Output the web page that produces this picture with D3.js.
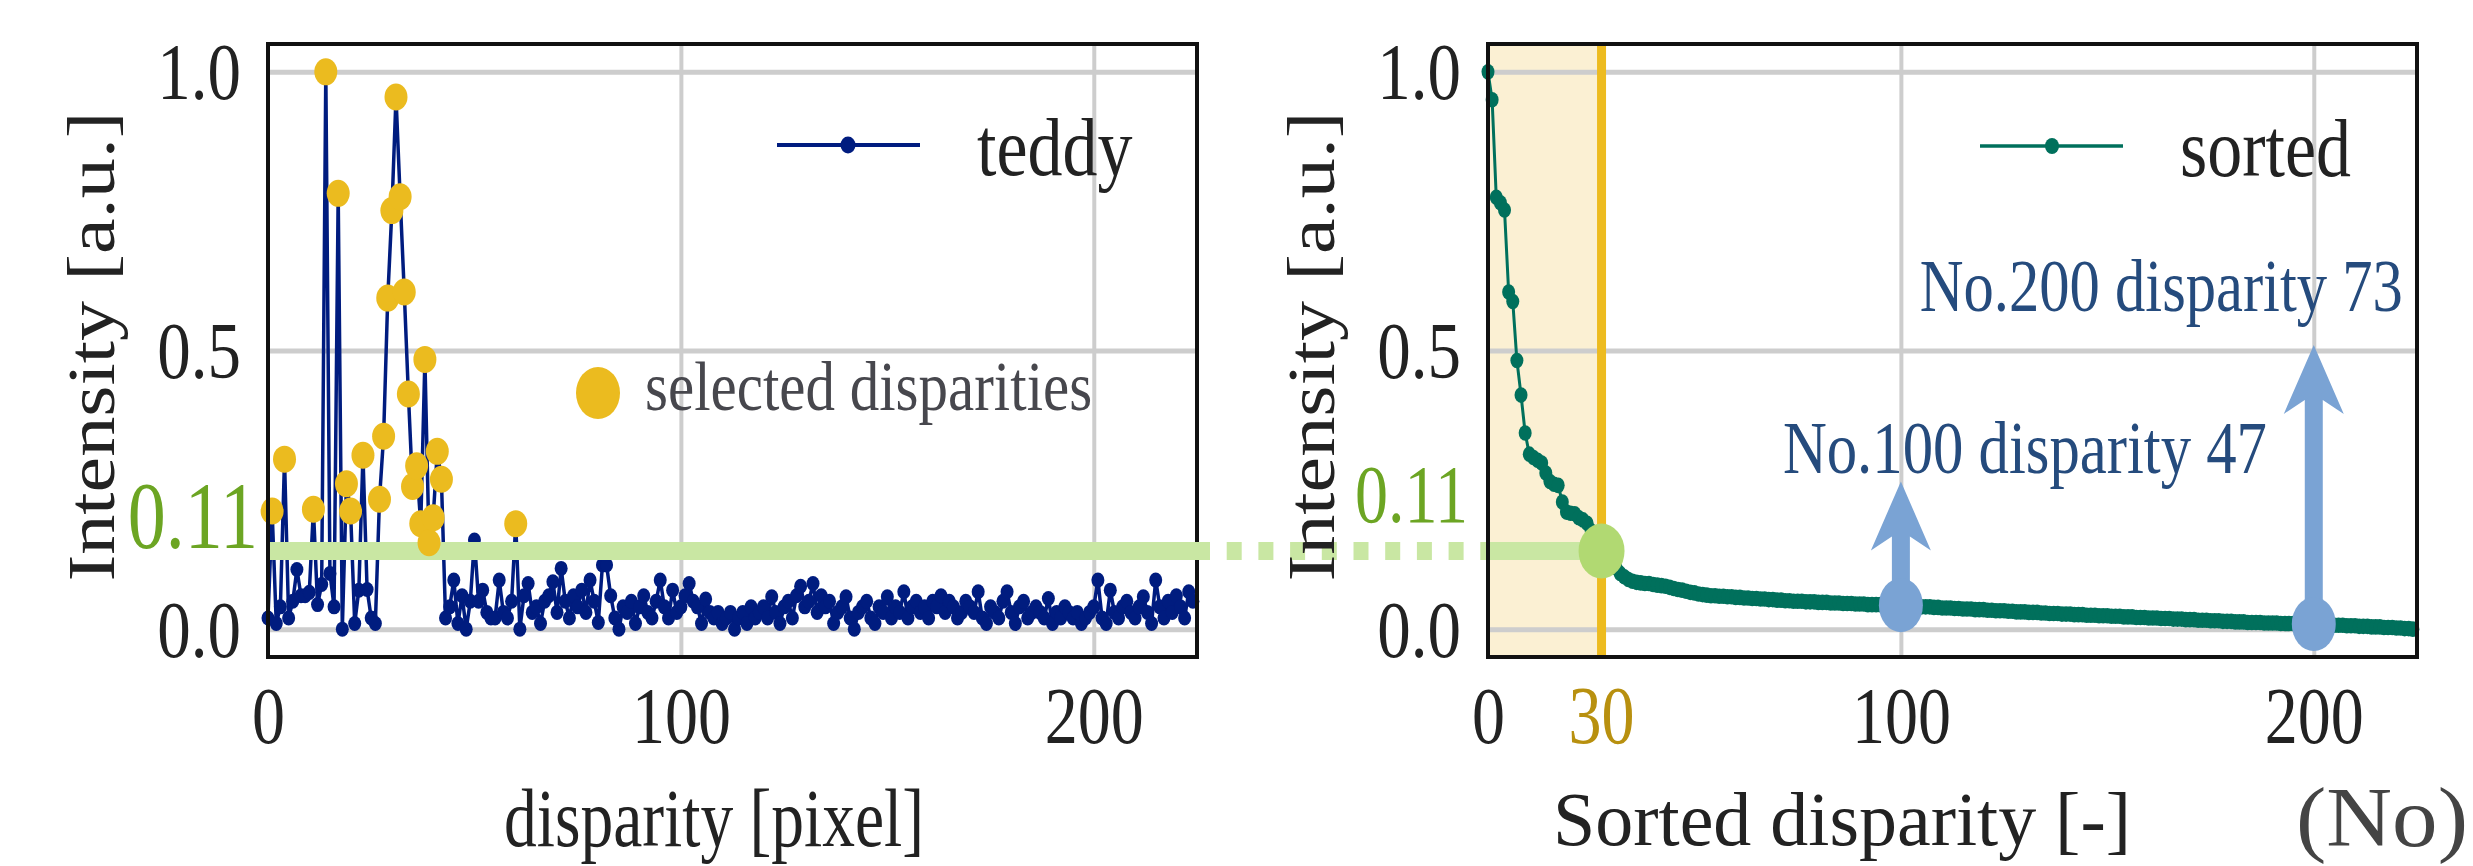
<!DOCTYPE html>
<html>
<head>
<meta charset="utf-8">
<script src="https://cdn.jsdelivr.net/npm/d3@7"></script>
<style>
  html, body { margin: 0; padding: 0; background: #fff; }
  svg { display: block; }
</style>
</head>
<body>
<svg id="chart" width="2473" height="866"></svg>
<script>
//
// Data
//

// teddy intensity per disparity (0..224)
const TEDDY = [
  .02, .212, .01, .04, .305, .02, .05, .107, .06, .06, .066, .215, .044, .08, 1.0,
  .10, .04, .782, .0, .261, .212, .01, .07, .312, .071, .02, .01, .233, .346, .594,
  .751, .955, .776, .605, .422, .256, .293, .189, .484, .155, .2, .319, .269, .02, .04,
  .088, .01, .06, .0, .05, .16, .05, .07, .03, .02, .02, .088, .03, .02, .05,
  .189, .0, .06, .082, .03, .04, .01, .05, .06, .085, .03, .109, .05, .02, .06,
  .04, .07, .03, .088, .05, .012, .115, .115, .06, .02, .0, .04, .03, .05, .01,
  .04, .06, .03, .02, .05, .088, .04, .02, .07, .03, .04, .06, .082, .05, .04,
  .01, .054, .03, .02, .03, .01, .02, .03, .0, .02, .03, .01, .04, .02, .03,
  .04, .02, .058, .03, .01, .04, .05, .02, .06, .077, .04, .05, .082, .03, .06,
  .04, .05, .01, .03, .04, .058, .02, .0, .03, .04, .05, .02, .01, .04, .03,
  .058, .02, .04, .03, .067, .02, .04, .05, .03, .04, .02, .05, .04, .06, .03,
  .05, .04, .02, .03, .05, .04, .03, .067, .02, .01, .04, .03, .02, .05, .067,
  .03, .01, .04, .05, .02, .03, .04, .03, .02, .055, .01, .03, .02, .04, .03,
  .02, .03, .01, .02, .03, .04, .088, .02, .01, .07, .03, .02, .04, .05, .03,
  .02, .04, .058, .03, .01, .088, .04, .02, .05, .03, .06, .04, .02, .067, .05,
]

// disparities marked as selected (yellow)
const SELECTED = [1, 4, 11, 14, 17, 19, 20, 23, 27, 28, 29, 30, 31, 32, 33, 34, 35, 36, 37, 38, 39, 40, 41, 42, 60]

// intensities in descending order (No. 0..224)
const SORTED = [
  1.0, .95, .775, .765, .752, .605, .588, .482, .42, .352, .314, .308, .303, .298, .28,
  .265, .26, .258, .228, .21, .208, .207, .2, .196, .19, .176, .162, .148, .132, .12,
  .114, .11, .1, .094, .089, .086, .084, .083, .082, .082, .08, .079, .078, .077, .075,
  .073, .071, .07, .068, .066, .065, .063, .062, .061, .06, .06, .059, .059, .058, .058,
  .057, .057, .056, .056, .055, .055, .054, .054, .053, .053, .052, .052, .051, .051, .05,
  .05, .05, .049, .049, .049, .048, .048, .048, .047, .047, .047, .046, .046, .046, .045,
  .045, .045, .044, .044, .044, .044, .043, .043, .043, .043, .043, .042, .042, .041, .041,
  .04, .04, .04, .039, .039, .038, .038, .038, .037, .037, .036, .036, .036, .035, .035,
  .035, .034, .034, .033, .033, .033, .032, .032, .031, .031, .031, .03, .03, .03, .029,
  .029, .028, .028, .028, .027, .027, .027, .026, .026, .026, .025, .025, .025, .024, .024,
  .024, .023, .023, .023, .022, .022, .022, .021, .021, .021, .02, .02, .02, .019, .019,
  .019, .018, .018, .018, .017, .017, .017, .016, .016, .016, .015, .015, .015, .014, .014,
  .014, .013, .013, .013, .012, .012, .012, .012, .011, .011, .011, .011, .01, .01, .01,
  .01, .01, .009, .009, .009, .009, .009, .008, .008, .008, .007, .007, .007, .006, .006,
  .006, .005, .005, .005, .004, .004, .004, .003, .003, .003, .002, .002, .001, .001, .0,
]

const X_TICKS = [0, 100, 200]
const Y_TICKS = [0, 0.5, 1.0]
const X_DOMAIN = [0, 225]
const Y_DOMAIN = [-0.05, 1.05]

const THRESHOLD = 0.14
const THRESHOLD_LABEL = `0.11`
const CUT = 27.5
const CUT_LABEL = `30`
const PICKS = [100, 200]
const PICK_LABELS = [`No.100 disparity 47`, `No.200 disparity 73`]
const ARROW_TOPS = [0.265, 0.51]

//
// Configuration
//

const FONT = `"Liberation Serif", "Times New Roman", Times, serif`
const TEXT_COLOR = `#222`
const GRID_COLOR = `#cdcdcd`
const TEDDY_COLOR = `#001c7f`
const SELECTED_COLOR = `#ebbb1f`
const SORTED_COLOR = `#00705c`
const BAND_COLOR = `#c9e7a3`
const DOT_COLOR = `#b1d972`
const GREEN_TEXT = `#6ca523`
const SHADE_COLOR = `#fbf0d3`
const CUT_COLOR = `#edbb1f`
const CUT_TEXT = `#b8900f`
const ARROW_COLOR = `#7aa3d4`
const NOTE_COLOR = `#254b7d`

const TOP = 44
const BOTTOM = 657
const LEFT = { x0: 268, x1: 1197 }
const RIGHT = { x0: 1488, x1: 2417 }

const svg = d3.select(`#chart`).attr(`font-family`, FONT)

const y = d3.scaleLinear().domain(Y_DOMAIN).range([BOTTOM, TOP])
const xL = d3.scaleLinear().domain(X_DOMAIN).range([LEFT.x0, LEFT.x1])
const xR = d3.scaleLinear().domain(X_DOMAIN).range([RIGHT.x0, RIGHT.x1])

//
// Helpers
//

function label(g, str, x, yy, o = {}) {
  const sx = o.sx || 1
  const sy = o.sy || 1
  const t = g.append(`text`)
    .attr(`transform`, `translate(${x},${yy}) scale(${sx},${sy})` + (o.rotate ? ` rotate(${o.rotate})` : ``))
    .attr(`font-size`, o.size || 66)
    .attr(`text-anchor`, o.anchor || `start`)
    .attr(`fill`, o.fill || TEXT_COLOR)
    .text(str)
  if (o.width) t.attr(`textLength`, o.width / sx).attr(`lengthAdjust`, `spacingAndGlyphs`)
  return t
}

function grid(g, x) {
  const [x0, x1] = x.range()
  g.append(`g`)
    .attr(`transform`, `translate(0,${BOTTOM})`)
    .call(d3.axisBottom(x).tickValues(X_TICKS.filter((d) => d > 0)).tickSize(-(BOTTOM - TOP)).tickFormat(``))
    .call((a) => a.select(`.domain`).remove())
    .call((a) => a.selectAll(`line`).attr(`stroke`, GRID_COLOR).attr(`stroke-width`, 4))
  g.append(`g`)
    .attr(`transform`, `translate(${x0},0)`)
    .call(d3.axisLeft(y).tickValues(Y_TICKS).tickSize(-(x1 - x0)).tickFormat(``))
    .call((a) => a.select(`.domain`).remove())
    .call((a) => a.selectAll(`line`).attr(`stroke`, GRID_COLOR).attr(`stroke-width`, 5))
}

function axes(g, x) {
  const [x0] = x.range()
  g.append(`g`)
    .attr(`transform`, `translate(0,743)`)
    .call(d3.axisBottom(x).tickValues(X_TICKS).tickSize(0).tickFormat(d3.format(`d`)))
    .call((a) => a.select(`.domain`).remove())
    .attr(`font-size`, 66).attr(`font-family`, FONT).attr(`color`, TEXT_COLOR)
    .selectAll(`text`).attr(`y`, null).attr(`dy`, null).attr(`transform`, `scale(1,1.22)`)
  g.append(`g`)
    .attr(`transform`, `translate(${x0},0)`)
    .call(d3.axisLeft(y).tickValues(Y_TICKS).tickSize(0).tickFormat(d3.format(`.1f`)))
    .call((a) => a.select(`.domain`).remove())
    .attr(`font-size`, 67).attr(`font-family`, FONT).attr(`color`, TEXT_COLOR)
    .selectAll(`text`).attr(`x`, null).attr(`dy`, null).attr(`transform`, `translate(-27,27) scale(1,1.2)`)
  label(g, `Intensity [a.u.]`, x0 - 154, (TOP + BOTTOM) / 2 - 4, { size: 68, sy: 1.18, rotate: -90, anchor: `middle` })
}

function frame(g, x) {
  const [x0, x1] = x.range()
  g.append(`rect`)
    .attr(`x`, x0).attr(`y`, TOP)
    .attr(`width`, x1 - x0).attr(`height`, BOTTOM - TOP)
    .attr(`fill`, `none`).attr(`stroke`, `#111`).attr(`stroke-width`, 4)
}

function dots(g, data, x, rx, ry, color) {
  g.selectAll(null)
    .data(data)
    .join(`ellipse`)
    .attr(`cx`, (d) => x(d[0]))
    .attr(`cy`, (d) => y(d[1]))
    .attr(`rx`, rx).attr(`ry`, ry)
    .attr(`fill`, color)
}

//
// Left panel: teddy
//

const left = svg.append(`g`)
grid(left, xL)

const teddyPts = TEDDY.map((v, i) => [i, v])
left.append(`path`)
  .datum(teddyPts)
  .attr(`d`, d3.line().x((d) => xL(d[0])).y((d) => y(d[1])))
  .attr(`fill`, `none`).attr(`stroke`, TEDDY_COLOR).attr(`stroke-width`, 3.5).attr(`stroke-linejoin`, `round`)
dots(left, teddyPts, xL, 6.5, 7.5, TEDDY_COLOR)

left.append(`line`)
  .attr(`x1`, xL(X_DOMAIN[0])).attr(`x2`, xL(X_DOMAIN[1]))
  .attr(`y1`, y(THRESHOLD)).attr(`y2`, y(THRESHOLD))
  .attr(`stroke`, BAND_COLOR).attr(`stroke-width`, 18)

dots(left, SELECTED.map((i) => [i, TEDDY[i]]), xL, 11.5, 13.5, SELECTED_COLOR)
frame(left, xL)
axes(left, xL)
label(left, `disparity [pixel]`, 714, 846, { size: 70, sy: 1.19, anchor: `middle`, width: 420 })

// legend
left.append(`line`).attr(`x1`, 777).attr(`x2`, 920).attr(`y1`, 145).attr(`y2`, 145)
  .attr(`stroke`, TEDDY_COLOR).attr(`stroke-width`, 4)
left.append(`ellipse`).attr(`cx`, 848).attr(`cy`, 145).attr(`rx`, 7.5).attr(`ry`, 8.5).attr(`fill`, TEDDY_COLOR)
label(left, `teddy`, 977, 175, { size: 70, sy: 1.18 })
left.append(`ellipse`).attr(`cx`, 598).attr(`cy`, 393).attr(`rx`, 22).attr(`ry`, 26).attr(`fill`, SELECTED_COLOR)
label(left, `selected disparities`, 645, 410, { size: 59, sy: 1.18, fill: `#47474d` })

label(left, THRESHOLD_LABEL, LEFT.x0 - 10, 548, { size: 76, sy: 1.25, anchor: `end`, fill: GREEN_TEXT })

//
// Link between the panels
//

svg.append(`line`)
  .attr(`x1`, LEFT.x1 - 2).attr(`x2`, RIGHT.x0 - 6)
  .attr(`y1`, y(THRESHOLD)).attr(`y2`, y(THRESHOLD))
  .attr(`stroke`, BAND_COLOR).attr(`stroke-width`, 18)
  .attr(`stroke-dasharray`, `15 16.7`)

//
// Right panel: sorted
//

const right = svg.append(`g`)
right.append(`rect`)
  .attr(`x`, xR(0)).attr(`y`, TOP)
  .attr(`width`, xR(CUT) - xR(0)).attr(`height`, BOTTOM - TOP)
  .attr(`fill`, SHADE_COLOR)
grid(right, xR)
right.append(`line`)
  .attr(`x1`, xR(CUT)).attr(`x2`, xR(CUT)).attr(`y1`, TOP).attr(`y2`, BOTTOM)
  .attr(`stroke`, CUT_COLOR).attr(`stroke-width`, 9)

const sortedPts = SORTED.map((v, i) => [i, v])
right.append(`path`)
  .datum(sortedPts)
  .attr(`d`, d3.line().x((d) => xR(d[0])).y((d) => y(d[1])))
  .attr(`fill`, `none`).attr(`stroke`, SORTED_COLOR).attr(`stroke-width`, 3).attr(`stroke-linejoin`, `round`)
dots(right, sortedPts, xR, 6.5, 7.8, SORTED_COLOR)

right.append(`line`)
  .attr(`x1`, xR(0) - 7).attr(`x2`, xR(CUT))
  .attr(`y1`, y(THRESHOLD)).attr(`y2`, y(THRESHOLD))
  .attr(`stroke`, BAND_COLOR).attr(`stroke-width`, 18)
right.append(`ellipse`)
  .attr(`cx`, xR(CUT)).attr(`cy`, y(THRESHOLD))
  .attr(`rx`, 23).attr(`ry`, 27.5).attr(`fill`, DOT_COLOR)

frame(right, xR)
axes(right, xR)
label(right, CUT_LABEL, xR(CUT), 743, { size: 66, sy: 1.25, anchor: `middle`, fill: CUT_TEXT })
label(right, THRESHOLD_LABEL, RIGHT.x0 - 20, 522, { size: 66, sy: 1.25, anchor: `end`, fill: GREEN_TEXT })
label(right, `Sorted disparity [-]`, 1842, 845, { size: 75, sy: 1.02, anchor: `middle`, width: 578 })
label(right, `(No)`, 2296, 846, { size: 84, width: 172, fill: `#444` })

// legend
right.append(`line`).attr(`x1`, 1980).attr(`x2`, 2123).attr(`y1`, 146).attr(`y2`, 146)
  .attr(`stroke`, SORTED_COLOR).attr(`stroke-width`, 3.5)
right.append(`ellipse`).attr(`cx`, 2052).attr(`cy`, 146).attr(`rx`, 7).attr(`ry`, 8).attr(`fill`, SORTED_COLOR)
label(right, `sorted`, 2180, 176, { size: 70, sy: 1.18 })

// picked ranks with arrows
PICKS.forEach((p, k) => {
  const cx = xR(p)
  const yb = y(SORTED[p])
  const yt = y(ARROW_TOPS[k])
  const hl = 69, hw = 30, sw = 9, notch = 14
  right.append(`path`)
    .attr(`d`, `M${cx - sw},${yb} L${cx - sw},${yt + hl - notch} L${cx - hw},${yt + hl} L${cx},${yt}`
      + ` L${cx + hw},${yt + hl} L${cx + sw},${yt + hl - notch} L${cx + sw},${yb} Z`)
    .attr(`fill`, ARROW_COLOR)
  right.append(`ellipse`)
    .attr(`cx`, cx).attr(`cy`, yb)
    .attr(`rx`, 22).attr(`ry`, 27).attr(`fill`, ARROW_COLOR)
})
label(right, PICK_LABELS[0], xR(PICKS[0]) - 118, 473, { size: 61, sy: 1.2, fill: NOTE_COLOR, width: 484 })
label(right, PICK_LABELS[1], xR(PICKS[1]) - 394, 311, { size: 61, sy: 1.2, fill: NOTE_COLOR, width: 483 })
</script>
</body>
</html>
